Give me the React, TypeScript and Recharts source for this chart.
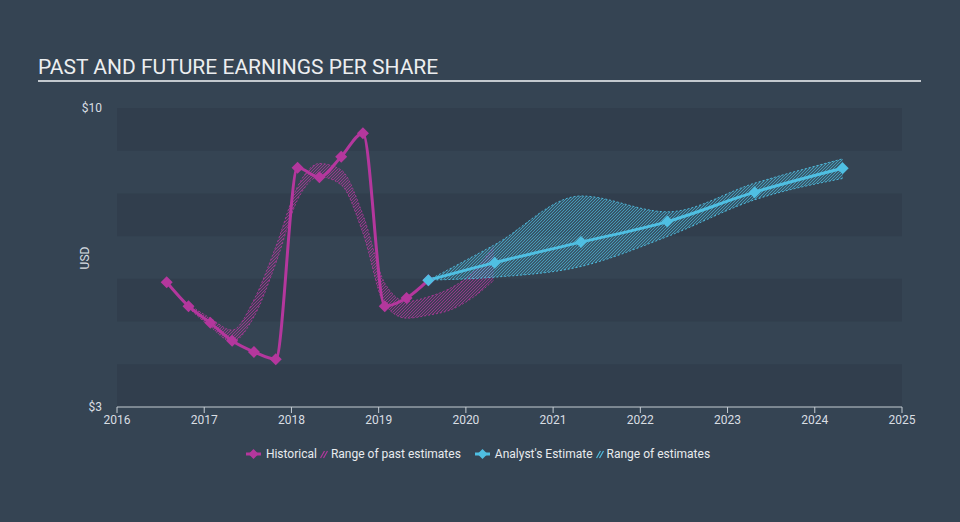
import { ComposedChart, Line, Area, XAxis, YAxis, ReferenceArea } from 'recharts';

const PINK = '#b4379d';
const BLUE = '#4fbfe2';
const BG = '#354453';
const BAND = '#313e4d';
const TEXT = '#d9dee3';

// x positions are fractional years
const yearTicks = [2016, 2017, 2018, 2019, 2020, 2021, 2022, 2023, 2024, 2025];
const priceTicks = [3, 10];
const darkBands = [
  [3, 4],
  [5, 6],
  [7, 8],
  [9, 10],
];

const histYears = [2016.57, 2016.82, 2017.07, 2017.32, 2017.57, 2017.82, 2018.07, 2018.32, 2018.57, 2018.82, 2019.07, 2019.32, 2019.57];
const histEps = [5.92, 5.36, 4.97, 4.55, 4.29, 4.12, 8.6, 8.38, 8.86, 9.41, 5.36, 5.55, 5.97];

const pastRangeYears = [2016.82, 2017.07, 2017.32, 2017.57, 2017.82, 2018.07, 2018.32, 2018.57, 2018.82, 2019.07, 2019.32, 2019.57, 2019.82, 2020.07, 2020.32];
const pastLow = [5.32, 4.88, 4.53, 5.11, 6.36, 7.85, 8.39, 8.2, 7.07, 5.39, 5.08, 5.15, 5.27, 5.55, 5.97];
const pastHigh = [5.4, 5.08, 4.8, 5.51, 6.75, 8.16, 8.7, 8.55, 7.5, 5.9, 5.47, 5.58, 5.78, 6.13, 6.75];

const estYears = [2019.57, 2020.33, 2021.32, 2022.31, 2023.31, 2024.32];
const estEps = [5.97, 6.38, 6.86, 7.34, 8.03, 8.59];
const estLow = [5.97, 6.04, 6.29, 6.99, 7.85, 8.35];
const estHigh = [5.97, 6.8, 7.94, 7.57, 8.24, 8.81];

const histData = histYears.map((year, i) => ({ year, eps: histEps[i] }));
const pastRangeData = pastRangeYears.map((year, i) => ({ year, range: [pastLow[i], pastHigh[i]] }));
const estData = estYears.map((year, i) => ({ year, eps: estEps[i] }));
const estRangeData = estYears.map((year, i) => ({ year, range: [estLow[i], estHigh[i]] }));

const Diamond = ({ cx, cy, fill, r = 6 }: { cx: number; cy: number; fill: string; r?: number }) => (
  <path d={`M${cx},${cy - r}L${cx + r},${cy}L${cx},${cy + r}L${cx - r},${cy}Z`} fill={fill} />
);

const LegendLine = ({ color }: { color: string }) => (
  <svg width={15} height={12} style={{ marginRight: 5 }}>
    <line x1={0} y1={6} x2={15} y2={6} stroke={color} strokeWidth={3} />
    <path d="M7.5,1L12.5,6L7.5,11L2.5,6Z" fill={color} />
  </svg>
);

const LegendHatch = ({ color }: { color: string }) => (
  <svg width={8} height={12} style={{ margin: '0 3px 0 3px' }}>
    <line x1={0.5} y1={10} x2={4.5} y2={3} stroke={color} strokeWidth={1.2} />
    <line x1={3.5} y1={10} x2={7.5} y2={3} stroke={color} strokeWidth={1.2} />
  </svg>
);

export default function App() {
  return (
    <div
      style={{
        position: 'absolute',
        left: 0,
        top: 0,
        width: 960,
        height: 522,
        background: BG,
        fontFamily: 'Roboto, sans-serif',
        overflow: 'hidden',
      }}
    >
      <div
        style={{
          position: 'absolute',
          left: 38,
          top: 55,
          fontSize: 21,
          color: '#eceef0',
        }}
      >
        PAST AND FUTURE EARNINGS PER SHARE
      </div>
      <div style={{ position: 'absolute', left: 38, top: 80, width: 883, height: 2, background: '#c3c9cf' }} />

      <ComposedChart
        width={960}
        height={522}
        margin={{ top: 108, right: 58, bottom: 85, left: 0 }}
        style={{ position: 'absolute', left: 0, top: 0 }}
      >
        <defs>
          <pattern id="hatchPink" patternUnits="userSpaceOnUse" width={3} height={3}>
            <rect width={3} height={3} fill={PINK} fillOpacity={0.12} />
            <path d="M0,3L3,0M-1,1L1,-1M2,4L4,2" stroke={PINK} strokeWidth={0.9} strokeOpacity={0.8} />
          </pattern>
          <pattern id="hatchBlue" patternUnits="userSpaceOnUse" width={3} height={3}>
            <rect width={3} height={3} fill={BLUE} fillOpacity={0.18} />
            <path d="M0,3L3,0M-1,1L1,-1M2,4L4,2" stroke={BLUE} strokeWidth={0.9} strokeOpacity={0.7} />
          </pattern>
        </defs>

        {darkBands.map(([a, b]) => (
          <ReferenceArea key={a} y1={a} y2={b} fill={BAND} fillOpacity={1} stroke="none" />
        ))}

        <XAxis
          dataKey="year"
          type="number"
          domain={[2016, 2025]}
          ticks={yearTicks}
          allowDataOverflow
          height={30}
          stroke="#c5ccd3"
          tickSize={6}
          tick={{ fill: TEXT, fontSize: 12 }}
        />
        <YAxis
          type="number"
          domain={[3, 10]}
          ticks={priceTicks}
          width={117}
          axisLine={false}
          tickLine={false}
          tickSize={6}
          tickMargin={9}
          tickFormatter={(v: number) => `$${v}`}
          tick={{ fill: TEXT, fontSize: 12 }}
          label={{
            content: () => (
              <text x={89} y={258} transform="rotate(-90 89 258)" textAnchor="middle" fill={TEXT} fontSize={12}>
                USD
              </text>
            ),
          }}
        />

        <Area
          data={pastRangeData}
          dataKey="range"
          type="monotone"
          stroke={PINK}
          strokeWidth={1}
          strokeDasharray="2 2"
          strokeOpacity={0.8}
          fill="url(#hatchPink)"
          fillOpacity={1}
          isAnimationActive={false}
          activeDot={false}
        />
        <Area
          data={estRangeData}
          dataKey="range"
          type="monotone"
          stroke={BLUE}
          strokeWidth={1}
          strokeDasharray="2 2"
          strokeOpacity={0.9}
          fill="url(#hatchBlue)"
          fillOpacity={1}
          isAnimationActive={false}
          activeDot={false}
        />
        <Line
          data={histData}
          dataKey="eps"
          type="monotone"
          stroke={PINK}
          strokeWidth={3}
          isAnimationActive={false}
          activeDot={false}
          dot={(p: any) => <Diamond key={`h${p.index}`} cx={p.cx} cy={p.cy} fill={PINK} />}
        />
        <Line
          data={estData}
          dataKey="eps"
          type="monotone"
          stroke={BLUE}
          strokeWidth={3}
          isAnimationActive={false}
          activeDot={false}
          dot={(p: any) => <Diamond key={`e${p.index}`} cx={p.cx} cy={p.cy} fill={BLUE} />}
        />
      </ComposedChart>

      <div
        style={{
          position: 'absolute',
          left: 0,
          top: 447,
          width: 956,
          display: 'flex',
          justifyContent: 'center',
          alignItems: 'center',
          fontSize: 12,
          color: '#e8ebee',
        }}
      >
        <LegendLine color={PINK} />
        <span>Historical</span>
        <LegendHatch color={PINK} />
        <span>Range of past estimates</span>
        <span style={{ width: 14 }} />
        <LegendLine color={BLUE} />
        <span>Analyst's Estimate</span>
        <LegendHatch color={BLUE} />
        <span>Range of estimates</span>
      </div>
    </div>
  );
}
